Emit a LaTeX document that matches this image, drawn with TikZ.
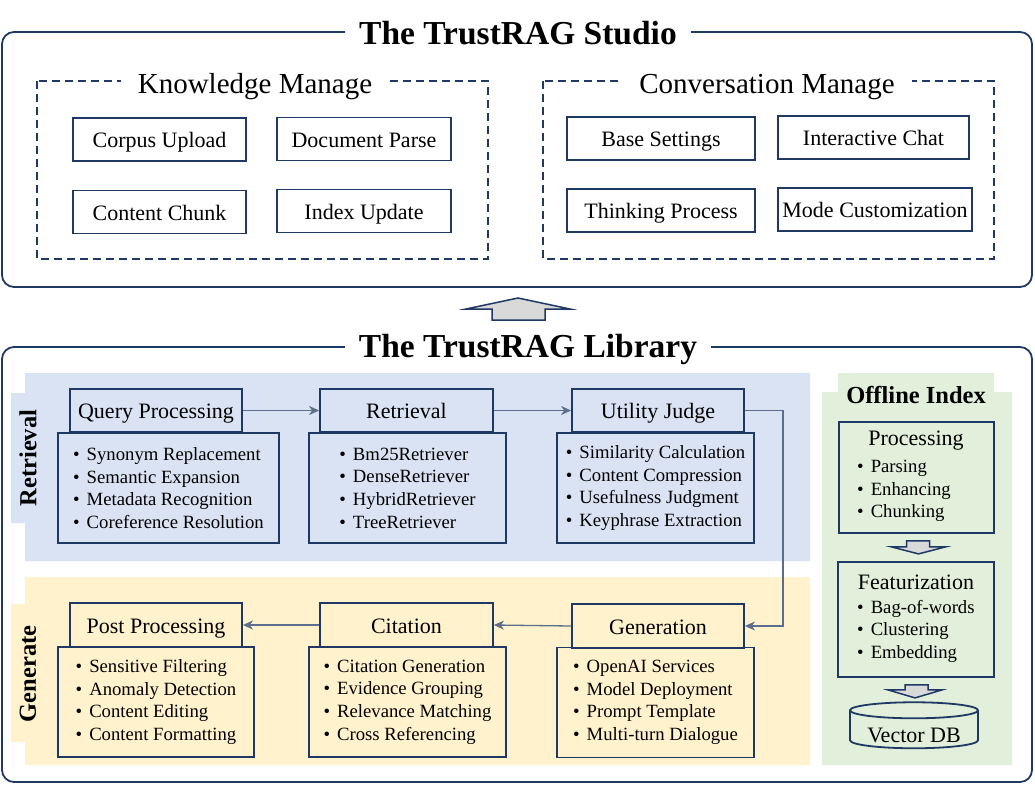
\documentclass[tikz,border=0pt]{standalone}
\usepackage{fontspec}
\setmainfont{Liberation Serif}
\usetikzlibrary{calc}
\usetikzlibrary{positioning}
\usetikzlibrary{shapes}
\usetikzlibrary{arrows.meta}
\definecolor{navy}{RGB}{31,56,100}
\definecolor{flowgray}{RGB}{92,110,140}
\definecolor{retblue}{RGB}{218,227,243}
\definecolor{genyellow}{RGB}{255,242,204}
\definecolor{offgreen}{RGB}{226,239,218}
\definecolor{arrowfill}{RGB}{217,217,217}
\newcommand{\itm}{\textbullet\hspace{7pt}}
\tikzset{outerframe/.style={draw=navy, line width=1.8pt, rounded corners=12pt},
  groupframe/.style={draw=navy, line width=1.4pt, dash pattern=on 8pt off 5pt},
  bigtitle/.style={font=\fontsize{33.5}{38}\selectfont\bfseries, fill=white, inner xsep=14pt, inner ysep=2pt},
  grouptitle/.style={font=\fontsize{29}{32}\selectfont, fill=white, inner xsep=17pt, inner ysep=1pt},
  itembox/.style={shape=rectangle, draw=navy, line width=1.8pt, fill=white, font=\fontsize{22}{26}\selectfont, text height=16.5pt, text depth=0pt, minimum height=43pt},
  headbox/.style={shape=rectangle, draw=navy, line width=1.8pt, font=\fontsize{22}{26}\selectfont, text height=16pt, text depth=0pt, minimum width=172pt, minimum height=43pt},
  listbox/.style={shape=rectangle, draw=navy, line width=1.8pt, align=left, font=\fontsize{18.7}{22.6}\selectfont, minimum width=197pt, minimum height=110pt},
  listtext/.style={align=left, font=\fontsize{18.7}{22.6}\selectfont, inner sep=0pt},
  offhead/.style={font=\fontsize{22}{26}\selectfont, text height=16.5pt, text depth=0pt},
  sidelabel/.style={rotate=90, font=\fontsize{24.5}{28}\selectfont\bfseries},
  blockarrow/.style={draw=navy, line width=1.5pt, fill=arrowfill, line join=miter},
  flow/.style={draw=flowgray, line width=1.3pt, -{Stealth[length=10pt, width=9pt, inset=3pt]}}}
\begin{document}
\begin{tikzpicture}[x=1pt, y=-1pt]
  \useasboundingbox (0,0) rectangle (1035,787);
  % studio
  \draw[outerframe] (2,32) rectangle (1032,287);
  \node[bigtitle, anchor=base] (studiotitle) at (518,44) {The TrustRAG Studio};
  \draw[groupframe] (37,81) rectangle (488,259);
  \draw[groupframe] (543,81) rectangle (994,259);
  \node[grouptitle, anchor=base] (knowtitle) at (255,93) {Knowledge Manage};
  \node[grouptitle, anchor=base] (convtitle) at (767,93) {Conversation Manage};
  \node[itembox, minimum width=173pt] (corpus) at (159.5,139.5) {Corpus Upload};
  \node[itembox, minimum width=174pt] (docparse) at (364,139) {Document Parse};
  \node[itembox, minimum width=173pt] (chunk) at (159.5,212) {Content Chunk};
  \node[itembox, minimum width=174pt] (index) at (364,211) {Index Update};
  \node[itembox, minimum width=188pt] (settings) at (661,138.5) {Base Settings};
  \node[itembox, minimum width=191pt] (chat) at (873.5,137.5) {Interactive Chat};
  \node[itembox, minimum width=188pt] (thinking) at (661,210.5) {Thinking Process};
  \node[itembox, minimum width=194pt] (mode) at (875,209.5) {Mode Customization};
  % up arrow
  \draw[blockarrow] (492,320) -- (492,309) -- (466,309) -- (518,298) -- (570,309) -- (545,309) -- (545,320) -- cycle;
  % library
  \draw[outerframe] (2,347) rectangle (1032,782);
  \node[bigtitle, anchor=base] (libtitle) at (528,357) {The TrustRAG Library};
  \fill[retblue] (25,373) rectangle (810,561) (11,393) rectangle (25,523);
  \fill[genyellow] (25,577) rectangle (810,765) (11,604) rectangle (25,742);
  \fill[offgreen] (822,392) rectangle (1012,765) (838,373) rectangle (994,392);
  \node[sidelabel] (retlabel) at (28,458) {Retrieval};
  \node[sidelabel] (genlabel) at (28,674) {Generate};
  \node[font=\fontsize{24.5}{28}\selectfont\bfseries, anchor=base] (offtitle) at (916,403) {Offline Index};

  \node[listbox, minimum width=221pt] (qplist) at (168.5,488) {\itm Synonym Replacement\\\itm Semantic Expansion\\\itm Metadata Recognition\\\itm Coreference Resolution};
  \node[listbox] (retlist) at (407.5,488) {\itm Bm25Retriever\\\itm DenseRetriever\\\itm HybridRetriever\\\itm TreeRetriever};
  \node[listbox] (ujlist) at (655.5,488) {\itm Similarity Calculation\\\itm Content Compression\\\itm Usefulness Judgment\\\itm Keyphrase Extraction};
  \node[headbox] (qp) at (156,410.5) {Query Processing};
  \node[headbox, minimum width=173pt] (ret) at (406.5,410.5) {Retrieval};
  \node[headbox] (uj) at (658,410.5) {Utility Judge};

  \node[listbox, minimum width=196pt] (pplist) at (156,702) {\itm Sensitive Filtering\\\itm Anomaly Detection\\\itm Content Editing\\\itm Content Formatting};
  \node[listbox] (citlist) at (407.5,702) {\itm Citation Generation\\\itm Evidence Grouping\\\itm Relevance Matching\\\itm Cross Referencing};
  \node[listbox] (genlist) at (655.5,702.5) {\itm OpenAI Services\\\itm Model Deployment\\\itm Prompt Template\\\itm Multi-turn Dialogue};
  \node[headbox, minimum height=44pt] (pp) at (156,625) {Post Processing};
  \node[headbox, minimum width=173pt, minimum height=44pt] (cit) at (406.5,625) {Citation};
  \node[headbox, minimum height=44pt] (gen) at (658,626) {Generation};

  \draw[flow] (qp.east) -- (ret.west);
  \draw[flow] (ret.east) -- (uj.west);
  \draw[flow] (uj.east) -- ++(38,0) |- (gen.east);
  \draw[flow] (gen.west) -- (cit.east);
  \draw[flow] (cit.west) -- (pp.east);

  % offline index
  \node[listbox, minimum width=155pt, minimum height=111pt] (proc) at (916.5,477.5) {};
  \node[offhead] (proctitle) at (916,437) {Processing};
  \node[listtext, anchor=north west] (proclist) at (857,460) {\itm Parsing\\\itm Enhancing\\\itm Chunking};
  \node[listbox, minimum width=156pt, minimum height=115pt] (feat) at (916,619.5) {};
  \node[offhead] (feattitle) at (916,581) {Featurization};
  \node[listtext, anchor=north west] (featlist) at (857,600) {\itm Bag-of-words\\\itm Clustering\\\itm Embedding};
  \node[cylinder, shape border rotate=90, aspect=0.16, draw=navy, line width=1.8pt, inner ysep=0pt, minimum height=46pt, minimum width=128pt, font=\fontsize{22}{26}\selectfont, text height=22pt, text depth=0pt] (vecdb) at (914,731) {Vector DB};
  \draw[blockarrow] ($(proc.south)+(-10,7)$) -- ++(0,6) -- ++(-15,0) -- ++(27,7) -- ++(27,-7) -- ++(-16,0) -- ++(0,-6) -- cycle;
  \draw[blockarrow] ($(feat.south)+(-11,7)$) -- ++(0,5) -- ++(-17,0) -- ++(27,8) -- ++(27,-8) -- ++(-14,0) -- ++(0,-5) -- cycle;
\end{tikzpicture}
\end{document}
